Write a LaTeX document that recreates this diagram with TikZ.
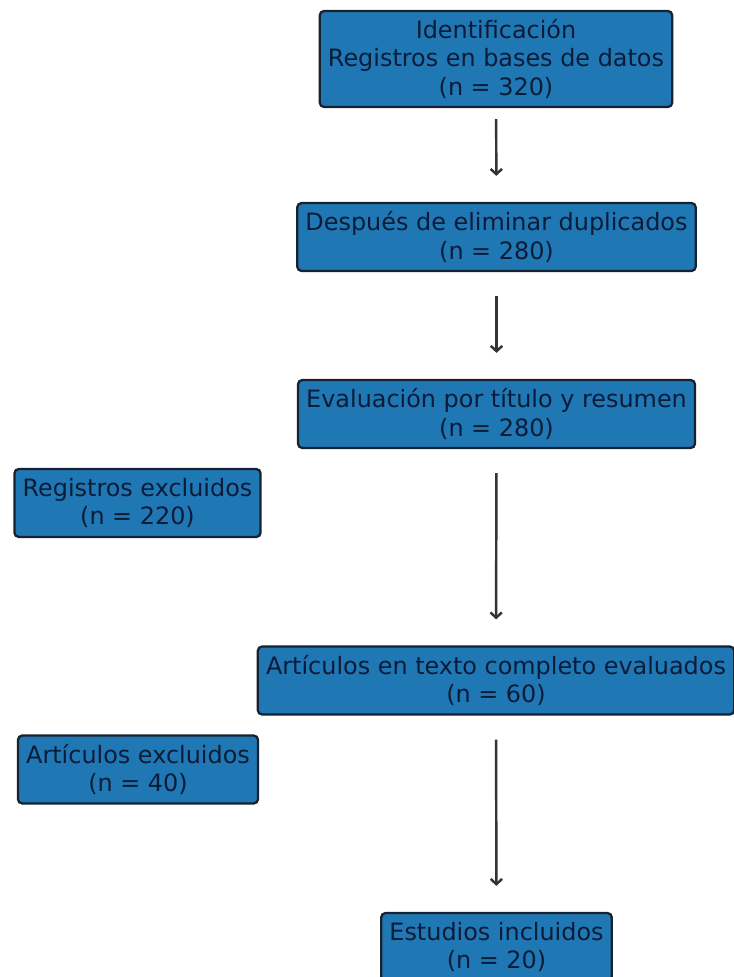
\documentclass[tikz,border=0pt]{standalone}
\usepackage{fontspec}
\setmainfont{DejaVu Sans}
\usetikzlibrary{arrows.meta}
\definecolor{boxblue}{RGB}{31,119,180}
\definecolor{boxedge}{RGB}{22,34,48}
\definecolor{boxtext}{RGB}{12,28,56}
\definecolor{arrowgray}{RGB}{51,51,51}
\tikzset{
	stage/.style={draw=boxedge, line width=1.3pt, fill=boxblue, rounded corners=2.5pt, align=center, text=boxtext, inner xsep=4.7pt, inner ysep=0pt, minimum height=1.36cm, font=\fontsize{13.6}{16.4}\selectfont},
	flow/.style={draw=arrowgray, line width=1.4pt, -{Straight Barb[length=3pt,width=6.5pt]}, shorten <=0.48cm, shorten >=0.52cm}
}

\begin{document}
\begin{tikzpicture}
			%%%%% START %%%%%
			
			\useasboundingbox (0, 0) rectangle (14.66, -19.54);
			
			\node[stage, minimum height=1.92cm] (ident) at (9.92, -1.18) {Identificación\\Registros en bases de datos\\(n = 320)};
			\node[stage] (dupl) at (9.93, -4.74) {Después de eliminar duplicados\\(n = 280)};
			\node[stage] (screen) at (9.93, -8.28) {Evaluación por título y resumen\\(n = 280)};
			\node[stage] (excl1) at (2.75, -10.06) {Registros excluidos\\(n = 220)};
			
			\node[stage] (full) at (9.92, -13.61) {Artículos en texto completo evaluados\\(n = 60)};
			\node[stage] (excl2) at (2.76, -15.39) {Artículos excluidos\\(n = 40)};
			\node[stage] (incl) at (9.93, -18.94) {Estudios incluidos\\(n = 20)};
			
			\draw[flow, shorten <=0.22cm] (ident) -- (dupl);
			\draw[flow] (dupl) -- (screen);
			\draw[flow] (screen) -- (full);
			\draw[flow] (full) -- (incl);
			
			%%%%% END %%%%%
		\end{tikzpicture}
\end{document}
